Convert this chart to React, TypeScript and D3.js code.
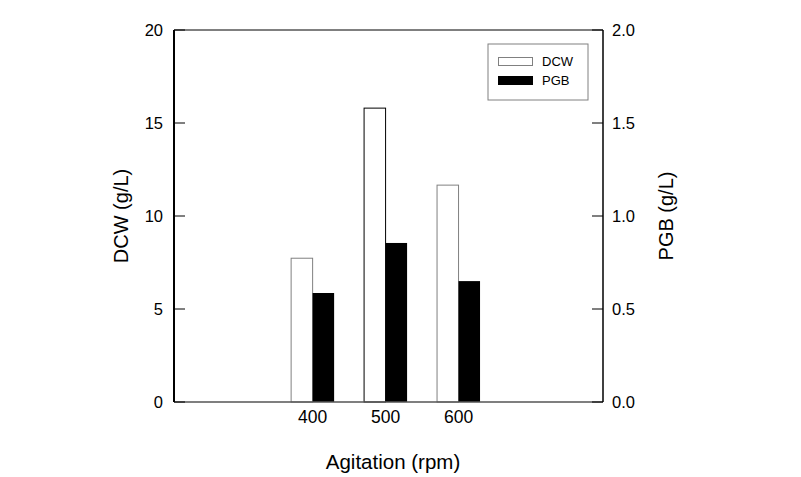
import React from 'react'
import * as d3 from 'd3'

const width = 801
const height = 477

const agitation = [400, 500, 600]
const dcw = [7.73, 15.8, 11.66]
const pgb = [0.586, 0.855, 0.65]
const leftTicks = [0, 5, 10, 15, 20]
const rightTicks = [0, 0.5, 1.0, 1.5, 2.0]

const margin = { left: 174, right: 603, top: 30, bottom: 402 }
const font = 'Liberation Sans, Arial, sans-serif'

const App = () => {
    const x = d3.scaleLinear().domain([210, 798]).range([margin.left, margin.right])
    const yL = d3.scaleLinear().domain([0, 20]).range([margin.bottom, margin.top])
    const yR = d3.scaleLinear().domain([0, 2]).range([margin.bottom, margin.top])
    const barW = 21.5

    return (
        <svg width={width} height={height} style={{ display: 'block', position: 'absolute', left: 0, top: 0 }}>
            <rect width={width} height={height} fill="#fff" />
            {/* bars */}
            {agitation.map((a, i) => (
                <g key={a}>
                    <rect
                        x={x(a) - barW}
                        y={yL(dcw[i])}
                        width={barW}
                        height={yL(0) - yL(dcw[i])}
                        fill="#fff"
                        stroke={i === 1 ? '#000' : '#808080'}
                        strokeWidth={1}
                    />
                    <rect
                        x={x(a)}
                        y={yR(pgb[i])}
                        width={barW}
                        height={yR(0) - yR(pgb[i])}
                        fill="#000"
                    />
                </g>
            ))}
            {/* frame */}
            <line x1={margin.left} x2={margin.right} y1={margin.top} y2={margin.top} stroke="#000" strokeWidth={1} />
            <line x1={margin.left} x2={margin.right} y1={margin.bottom} y2={margin.bottom} stroke="#555" strokeWidth={1.5} />
            <line x1={margin.left} x2={margin.left} y1={margin.top} y2={margin.bottom} stroke="#000" strokeWidth={2} />
            <line x1={margin.right} x2={margin.right} y1={margin.top} y2={margin.bottom} stroke="#000" strokeWidth={1.5} />
            {/* left axis */}
            {leftTicks.map((t) => (
                <g key={t}>
                    <line x1={margin.left} x2={margin.left + 11} y1={yL(t)} y2={yL(t)} stroke="#000" strokeWidth={1} />
                    <text x={163} y={yL(t)} dy="0.35em" textAnchor="end" fontFamily={font} fontSize={16.5}>
                        {t}
                    </text>
                </g>
            ))}
            {/* right axis */}
            {rightTicks.map((t) => (
                <g key={t}>
                    <line x1={margin.right - 11} x2={margin.right} y1={yR(t)} y2={yR(t)} stroke="#000" strokeWidth={1} />
                    <text x={612} y={yR(t)} dy="0.35em" textAnchor="start" fontFamily={font} fontSize={16.5}>
                        {t.toFixed(1)}
                    </text>
                </g>
            ))}
            {/* x ticks */}
            {agitation.map((a) => (
                <text key={a} x={x(a)} y={423} textAnchor="middle" fontFamily={font} fontSize={17.5}>
                    {a}
                </text>
            ))}
            {/* axis titles */}
            <text x={393} y={469} textAnchor="middle" fontFamily={font} fontSize={20.5}>
                Agitation (rpm)
            </text>
            <text transform={`translate(128, 216) rotate(-90)`} textAnchor="middle" fontFamily={font} fontSize={20}>
                DCW (g/L)
            </text>
            <text transform={`translate(673, 216) rotate(-90)`} textAnchor="middle" fontFamily={font} fontSize={20}>
                PGB (g/L)
            </text>
            {/* legend */}
            <rect x={488} y={44} width={100} height={56} fill="#fff" stroke="#808080" strokeWidth={1} />
            <rect x={498.5} y={57.5} width={34} height={8} fill="#fff" stroke="#808080" strokeWidth={1} />
            <rect x={498} y={76} width={35} height={9} fill="#000" />
            <text x={542} y={66} fontFamily={font} fontSize={13}>DCW</text>
            <text x={542} y={85} fontFamily={font} fontSize={13}>PGB</text>
        </svg>
    )
}

export default App
